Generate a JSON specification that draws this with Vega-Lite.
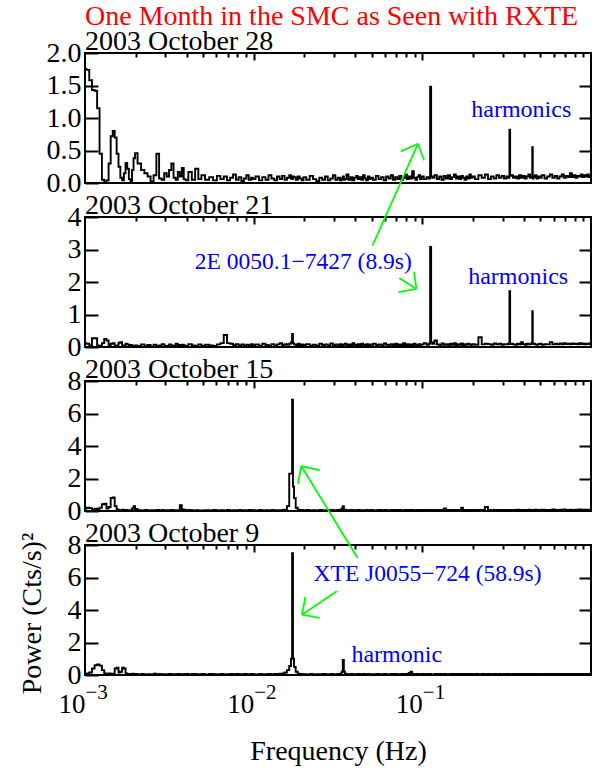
{
  "$schema": "https://vega.github.io/schema/vega-lite/v6.json",
  "background": "white",
  "padding": {"left": 17, "top": 2, "right": 0, "bottom": 0},
  "config": {
    "font": "Liberation Serif",
    "view": {"stroke": "black", "strokeWidth": 2},
    "axis": {"domain": false, "grid": false, "labelFont": "Liberation Serif", "labelFontSize": 28, "labelColor": "black", "labelFlush": false, "labelOverlap": false, "tickColor": "black", "tickWidth": 2, "titleFont": "Liberation Serif", "titleFontSize": 28, "titleFontWeight": "normal", "titleColor": "black"},
    "text": {"font": "Liberation Serif"}
  },
  "datasets": {
    "spectra": [
      {"f":0.00100,"oct28":1.76,"oct21":0.12,"oct15":0.15,"oct9":0.08},
      {"f":0.00104,"oct28":1.74,"oct21":0.10,"oct15":0.20,"oct9":0.10},
      {"f":0.00108,"oct28":1.58,"oct21":0.05,"oct15":0.18,"oct9":0.15},
      {"f":0.00112,"oct28":1.43,"oct21":0.27,"oct15":0.08,"oct9":0.40},
      {"f":0.00116,"oct28":1.42,"oct21":0.27,"oct15":0.14,"oct9":0.60},
      {"f":0.00120,"oct28":1.15,"oct21":0.05,"oct15":0.12,"oct9":0.65},
      {"f":0.00124,"oct28":0.45,"oct21":0.03,"oct15":0.20,"oct9":0.58},
      {"f":0.00128,"oct28":0.05,"oct21":0.12,"oct15":0.42,"oct9":0.30},
      {"f":0.00132,"oct28":0.00,"oct21":0.25,"oct15":0.45,"oct9":0.10},
      {"f":0.00136,"oct28":0.04,"oct21":0.20,"oct15":0.15,"oct9":0.05},
      {"f":0.00140,"oct28":0.30,"oct21":0.05,"oct15":0.25,"oct9":0.10},
      {"f":0.00144,"oct28":0.72,"oct21":0.10,"oct15":0.80,"oct9":0.08},
      {"f":0.00148,"oct28":0.80,"oct21":0.12,"oct15":0.83,"oct9":0.05},
      {"f":0.00152,"oct28":0.70,"oct21":0.04,"oct15":0.30,"oct9":0.40},
      {"f":0.00156,"oct28":0.45,"oct21":0.05,"oct15":0.10,"oct9":0.45},
      {"f":0.00160,"oct28":0.25,"oct21":0.13,"oct15":0.05,"oct9":0.15},
      {"f":0.00164,"oct28":0.08,"oct21":0.15,"oct15":0.05,"oct9":0.20},
      {"f":0.00168,"oct28":0.04,"oct21":0.05,"oct15":0.08,"oct9":0.45},
      {"f":0.00172,"oct28":0.15,"oct21":0.03,"oct15":0.04,"oct9":0.40},
      {"f":0.00176,"oct28":0.31,"oct21":0.10,"oct15":0.06,"oct9":0.10},
      {"f":0.00180,"oct28":0.22,"oct21":0.08,"oct15":0.05,"oct9":0.05},
      {"f":0.00184,"oct28":0.06,"oct21":0.03,"oct15":0.03,"oct9":0.06},
      {"f":0.00188,"oct28":0.03,"oct21":0.06,"oct15":0.05,"oct9":0.04},
      {"f":0.00192,"oct28":0.20,"oct21":0.04,"oct15":0.15,"oct9":0.08},
      {"f":0.00196,"oct28":0.38,"oct21":0.02,"oct15":0.30,"oct9":0.05},
      {"f":0.00200,"oct28":0.46,"oct21":0.05,"oct15":0.12,"oct9":0.06},
      {"f":0.00210,"oct28":0.30,"oct21":0.03,"oct15":0.05,"oct9":0.04},
      {"f":0.00220,"oct28":0.20,"oct21":0.08,"oct15":0.04,"oct9":0.07},
      {"f":0.00230,"oct28":0.15,"oct21":0.04,"oct15":0.06,"oct9":0.03},
      {"f":0.00240,"oct28":0.10,"oct21":0.06,"oct15":0.03,"oct9":0.05},
      {"f":0.00250,"oct28":0.02,"oct21":0.02,"oct15":0.05,"oct9":0.04},
      {"f":0.00260,"oct28":0.12,"oct21":0.07,"oct15":0.04,"oct9":0.08},
      {"f":0.00270,"oct28":0.45,"oct21":0.03,"oct15":0.06,"oct9":0.03},
      {"f":0.00280,"oct28":0.07,"oct21":0.05,"oct15":0.03,"oct9":0.06},
      {"f":0.00290,"oct28":0.05,"oct21":0.09,"oct15":0.07,"oct9":0.04},
      {"f":0.00300,"oct28":0.15,"oct21":0.04,"oct15":0.04,"oct9":0.05},
      {"f":0.00310,"oct28":0.10,"oct21":0.03,"oct15":0.05,"oct9":0.03},
      {"f":0.00320,"oct28":0.20,"oct21":0.08,"oct15":0.03,"oct9":0.07},
      {"f":0.00330,"oct28":0.30,"oct21":0.05,"oct15":0.06,"oct9":0.04},
      {"f":0.00340,"oct28":0.08,"oct21":0.03,"oct15":0.04,"oct9":0.05},
      {"f":0.00350,"oct28":0.05,"oct21":0.10,"oct15":0.05,"oct9":0.03},
      {"f":0.00360,"oct28":0.17,"oct21":0.06,"oct15":0.04,"oct9":0.06},
      {"f":0.00370,"oct28":0.10,"oct21":0.04,"oct15":0.35,"oct9":0.04},
      {"f":0.00380,"oct28":0.23,"oct21":0.07,"oct15":0.10,"oct9":0.05},
      {"f":0.00390,"oct28":0.06,"oct21":0.05,"oct15":0.08,"oct9":0.03},
      {"f":0.00400,"oct28":0.04,"oct21":0.03,"oct15":0.04,"oct9":0.06},
      {"f":0.00420,"oct28":0.17,"oct21":0.09,"oct15":0.06,"oct9":0.04},
      {"f":0.00440,"oct28":0.05,"oct21":0.05,"oct15":0.03,"oct9":0.07},
      {"f":0.00460,"oct28":0.22,"oct21":0.04,"oct15":0.05,"oct9":0.05},
      {"f":0.00480,"oct28":0.06,"oct21":0.08,"oct15":0.04,"oct9":0.03},
      {"f":0.00500,"oct28":0.12,"oct21":0.04,"oct15":0.03,"oct9":0.06},
      {"f":0.00530,"oct28":0.05,"oct21":0.07,"oct15":0.05,"oct9":0.04},
      {"f":0.00560,"oct28":0.09,"oct21":0.05,"oct15":0.04,"oct9":0.07},
      {"f":0.00590,"oct28":0.04,"oct21":0.03,"oct15":0.06,"oct9":0.05},
      {"f":0.00620,"oct28":0.11,"oct21":0.08,"oct15":0.03,"oct9":0.04},
      {"f":0.00650,"oct28":0.06,"oct21":0.12,"oct15":0.05,"oct9":0.06},
      {"f":0.00680,"oct28":0.10,"oct21":0.37,"oct15":0.04,"oct9":0.03},
      {"f":0.00710,"oct28":0.04,"oct21":0.12,"oct15":0.06,"oct9":0.05},
      {"f":0.00740,"oct28":0.08,"oct21":0.10,"oct15":0.03,"oct9":0.07},
      {"f":0.00770,"oct28":0.13,"oct21":0.06,"oct15":0.05,"oct9":0.04},
      {"f":0.00800,"oct28":0.05,"oct21":0.09,"oct15":0.04,"oct9":0.06},
      {"f":0.00830,"oct28":0.09,"oct21":0.05,"oct15":0.06,"oct9":0.05},
      {"f":0.00860,"oct28":0.03,"oct21":0.08,"oct15":0.03,"oct9":0.04},
      {"f":0.00890,"oct28":0.07,"oct21":0.04,"oct15":0.05,"oct9":0.07},
      {"f":0.00920,"oct28":0.12,"oct21":0.07,"oct15":0.04,"oct9":0.05},
      {"f":0.00950,"oct28":0.05,"oct21":0.05,"oct15":0.06,"oct9":0.04},
      {"f":0.00980,"oct28":0.08,"oct21":0.09,"oct15":0.04,"oct9":0.06},
      {"f":0.0100,"oct28":0.06,"oct21":0.05,"oct15":0.05,"oct9":0.05},
      {"f":0.0105,"oct28":0.10,"oct21":0.08,"oct15":0.03,"oct9":0.04},
      {"f":0.0110,"oct28":0.04,"oct21":0.04,"oct15":0.06,"oct9":0.06},
      {"f":0.0115,"oct28":0.09,"oct21":0.10,"oct15":0.04,"oct9":0.03},
      {"f":0.0120,"oct28":0.05,"oct21":0.06,"oct15":0.05,"oct9":0.05},
      {"f":0.0125,"oct28":0.12,"oct21":0.04,"oct15":0.03,"oct9":0.07},
      {"f":0.0130,"oct28":0.07,"oct21":0.09,"oct15":0.06,"oct9":0.04},
      {"f":0.0135,"oct28":0.04,"oct21":0.05,"oct15":0.04,"oct9":0.06},
      {"f":0.0140,"oct28":0.10,"oct21":0.08,"oct15":0.05,"oct9":0.05},
      {"f":0.0145,"oct28":0.06,"oct21":0.12,"oct15":0.04,"oct9":0.08},
      {"f":0.0150,"oct28":0.11,"oct21":0.06,"oct15":0.06,"oct9":0.10},
      {"f":0.0155,"oct28":0.05,"oct21":0.09,"oct15":0.08,"oct9":0.15},
      {"f":0.0160,"oct28":0.08,"oct21":0.07,"oct15":0.30,"oct9":0.30},
      {"f":0.0165,"oct28":0.12,"oct21":0.10,"oct15":2.30,"oct9":0.55},
      {"f":0.0168,"oct28":0.07,"oct21":0.15,"oct15":2.30,"oct9":1.00},
      {"f":0.0170,"oct28":0.06,"oct21":0.40,"oct15":6.85,"oct9":7.50},
      {"f":0.0172,"oct28":0.10,"oct21":0.12,"oct15":1.50,"oct9":1.00},
      {"f":0.0175,"oct28":0.09,"oct21":0.08,"oct15":0.80,"oct9":0.50},
      {"f":0.0180,"oct28":0.05,"oct21":0.06,"oct15":0.20,"oct9":0.20},
      {"f":0.0185,"oct28":0.10,"oct21":0.10,"oct15":0.08,"oct9":0.08},
      {"f":0.0190,"oct28":0.07,"oct21":0.05,"oct15":0.05,"oct9":0.05},
      {"f":0.0195,"oct28":0.04,"oct21":0.08,"oct15":0.06,"oct9":0.06},
      {"f":0.020,"oct28":0.09,"oct21":0.06,"oct15":0.04,"oct9":0.05},
      {"f":0.021,"oct28":0.05,"oct21":0.09,"oct15":0.06,"oct9":0.04},
      {"f":0.022,"oct28":0.11,"oct21":0.05,"oct15":0.03,"oct9":0.06},
      {"f":0.023,"oct28":0.06,"oct21":0.07,"oct15":0.05,"oct9":0.03},
      {"f":0.024,"oct28":0.03,"oct21":0.04,"oct15":0.04,"oct9":0.05},
      {"f":0.025,"oct28":0.08,"oct21":0.10,"oct15":0.06,"oct9":0.04},
      {"f":0.026,"oct28":0.05,"oct21":0.06,"oct15":0.03,"oct9":0.06},
      {"f":0.027,"oct28":0.10,"oct21":0.08,"oct15":0.05,"oct9":0.05},
      {"f":0.028,"oct28":0.04,"oct21":0.05,"oct15":0.04,"oct9":0.03},
      {"f":0.029,"oct28":0.07,"oct21":0.11,"oct15":0.06,"oct9":0.06},
      {"f":0.030,"oct28":0.12,"oct21":0.06,"oct15":0.04,"oct9":0.04},
      {"f":0.031,"oct28":0.05,"oct21":0.08,"oct15":0.05,"oct9":0.05},
      {"f":0.032,"oct28":0.08,"oct21":0.05,"oct15":0.07,"oct9":0.07},
      {"f":0.033,"oct28":0.04,"oct21":0.09,"oct15":0.08,"oct9":0.08},
      {"f":0.0335,"oct28":0.07,"oct21":0.06,"oct15":0.15,"oct9":0.20},
      {"f":0.034,"oct28":0.10,"oct21":0.06,"oct15":0.30,"oct9":0.93},
      {"f":0.0345,"oct28":0.05,"oct21":0.08,"oct15":0.10,"oct9":0.20},
      {"f":0.035,"oct28":0.06,"oct21":0.10,"oct15":0.06,"oct9":0.08},
      {"f":0.036,"oct28":0.13,"oct21":0.05,"oct15":0.05,"oct9":0.05},
      {"f":0.037,"oct28":0.05,"oct21":0.08,"oct15":0.04,"oct9":0.04},
      {"f":0.038,"oct28":0.09,"oct21":0.06,"oct15":0.06,"oct9":0.06},
      {"f":0.039,"oct28":0.04,"oct21":0.12,"oct15":0.03,"oct9":0.04},
      {"f":0.040,"oct28":0.08,"oct21":0.07,"oct15":0.05,"oct9":0.05},
      {"f":0.041,"oct28":0.11,"oct21":0.05,"oct15":0.04,"oct9":0.03},
      {"f":0.042,"oct28":0.06,"oct21":0.09,"oct15":0.06,"oct9":0.06},
      {"f":0.043,"oct28":0.09,"oct21":0.06,"oct15":0.05,"oct9":0.04},
      {"f":0.044,"oct28":0.05,"oct21":0.10,"oct15":0.03,"oct9":0.05},
      {"f":0.045,"oct28":0.12,"oct21":0.07,"oct15":0.05,"oct9":0.07},
      {"f":0.046,"oct28":0.07,"oct21":0.05,"oct15":0.04,"oct9":0.04},
      {"f":0.047,"oct28":0.04,"oct21":0.09,"oct15":0.06,"oct9":0.05},
      {"f":0.048,"oct28":0.10,"oct21":0.06,"oct15":0.05,"oct9":0.06},
      {"f":0.049,"oct28":0.06,"oct21":0.08,"oct15":0.04,"oct9":0.04},
      {"f":0.050,"oct28":0.08,"oct21":0.05,"oct15":0.06,"oct9":0.05},
      {"f":0.052,"oct28":0.05,"oct21":0.10,"oct15":0.04,"oct9":0.04},
      {"f":0.054,"oct28":0.11,"oct21":0.06,"oct15":0.05,"oct9":0.06},
      {"f":0.056,"oct28":0.06,"oct21":0.08,"oct15":0.07,"oct9":0.05},
      {"f":0.058,"oct28":0.09,"oct21":0.05,"oct15":0.04,"oct9":0.03},
      {"f":0.060,"oct28":0.04,"oct21":0.11,"oct15":0.06,"oct9":0.06},
      {"f":0.062,"oct28":0.10,"oct21":0.07,"oct15":0.05,"oct9":0.05},
      {"f":0.064,"oct28":0.07,"oct21":0.05,"oct15":0.04,"oct9":0.04},
      {"f":0.066,"oct28":0.12,"oct21":0.09,"oct15":0.06,"oct9":0.07},
      {"f":0.068,"oct28":0.05,"oct21":0.06,"oct15":0.05,"oct9":0.05},
      {"f":0.070,"oct28":0.09,"oct21":0.10,"oct15":0.07,"oct9":0.06},
      {"f":0.072,"oct28":0.06,"oct21":0.05,"oct15":0.04,"oct9":0.04},
      {"f":0.074,"oct28":0.11,"oct21":0.08,"oct15":0.06,"oct9":0.05},
      {"f":0.076,"oct28":0.05,"oct21":0.06,"oct15":0.05,"oct9":0.06},
      {"f":0.078,"oct28":0.08,"oct21":0.12,"oct15":0.04,"oct9":0.04},
      {"f":0.080,"oct28":0.13,"oct21":0.06,"oct15":0.06,"oct9":0.07},
      {"f":0.082,"oct28":0.06,"oct21":0.09,"oct15":0.05,"oct9":0.05},
      {"f":0.084,"oct28":0.10,"oct21":0.05,"oct15":0.07,"oct9":0.12},
      {"f":0.086,"oct28":0.07,"oct21":0.08,"oct15":0.04,"oct9":0.20},
      {"f":0.088,"oct28":0.18,"oct21":0.06,"oct15":0.06,"oct9":0.06},
      {"f":0.090,"oct28":0.08,"oct21":0.10,"oct15":0.05,"oct9":0.05},
      {"f":0.092,"oct28":0.05,"oct21":0.07,"oct15":0.04,"oct9":0.04},
      {"f":0.094,"oct28":0.09,"oct21":0.05,"oct15":0.06,"oct9":0.06},
      {"f":0.096,"oct28":0.12,"oct21":0.09,"oct15":0.05,"oct9":0.05},
      {"f":0.098,"oct28":0.06,"oct21":0.06,"oct15":0.07,"oct9":0.04},
      {"f":0.100,"oct28":0.10,"oct21":0.08,"oct15":0.05,"oct9":0.06},
      {"f":0.104,"oct28":0.06,"oct21":0.12,"oct15":0.06,"oct9":0.05},
      {"f":0.108,"oct28":0.09,"oct21":0.07,"oct15":0.04,"oct9":0.07},
      {"f":0.1105,"oct28":0.07,"oct21":0.10,"oct15":0.06,"oct9":0.05},
      {"f":0.112,"oct28":1.48,"oct21":3.08,"oct15":0.05,"oct9":0.06},
      {"f":0.1135,"oct28":0.10,"oct21":0.14,"oct15":0.07,"oct9":0.04},
      {"f":0.116,"oct28":0.08,"oct21":0.10,"oct15":0.05,"oct9":0.04},
      {"f":0.120,"oct28":0.12,"oct21":0.20,"oct15":0.07,"oct9":0.06},
      {"f":0.124,"oct28":0.06,"oct21":0.08,"oct15":0.04,"oct9":0.05},
      {"f":0.128,"oct28":0.10,"oct21":0.06,"oct15":0.06,"oct9":0.07},
      {"f":0.132,"oct28":0.05,"oct21":0.11,"oct15":0.05,"oct9":0.04},
      {"f":0.136,"oct28":0.11,"oct21":0.07,"oct15":0.15,"oct9":0.06},
      {"f":0.140,"oct28":0.07,"oct21":0.09,"oct15":0.05,"oct9":0.05},
      {"f":0.144,"oct28":0.12,"oct21":0.06,"oct15":0.07,"oct9":0.04},
      {"f":0.148,"oct28":0.06,"oct21":0.10,"oct15":0.04,"oct9":0.06},
      {"f":0.152,"oct28":0.09,"oct21":0.07,"oct15":0.06,"oct9":0.05},
      {"f":0.156,"oct28":0.13,"oct21":0.12,"oct15":0.05,"oct9":0.07},
      {"f":0.160,"oct28":0.07,"oct21":0.06,"oct15":0.07,"oct9":0.04},
      {"f":0.164,"oct28":0.10,"oct21":0.09,"oct15":0.05,"oct9":0.06},
      {"f":0.168,"oct28":0.06,"oct21":0.07,"oct15":0.06,"oct9":0.05},
      {"f":0.172,"oct28":0.11,"oct21":0.11,"oct15":0.20,"oct9":0.07},
      {"f":0.176,"oct28":0.08,"oct21":0.06,"oct15":0.05,"oct9":0.04},
      {"f":0.180,"oct28":0.05,"oct21":0.09,"oct15":0.06,"oct9":0.06},
      {"f":0.184,"oct28":0.10,"oct21":0.07,"oct15":0.05,"oct9":0.05},
      {"f":0.188,"oct28":0.07,"oct21":0.10,"oct15":0.07,"oct9":0.06},
      {"f":0.192,"oct28":0.13,"oct21":0.08,"oct15":0.04,"oct9":0.04},
      {"f":0.196,"oct28":0.08,"oct21":0.06,"oct15":0.06,"oct9":0.07},
      {"f":0.20,"oct28":0.10,"oct21":0.09,"oct15":0.05,"oct9":0.05},
      {"f":0.21,"oct28":0.06,"oct21":0.07,"oct15":0.07,"oct9":0.06},
      {"f":0.22,"oct28":0.12,"oct21":0.30,"oct15":0.06,"oct9":0.04},
      {"f":0.23,"oct28":0.08,"oct21":0.08,"oct15":0.06,"oct9":0.06},
      {"f":0.24,"oct28":0.13,"oct21":0.10,"oct15":0.25,"oct9":0.05},
      {"f":0.25,"oct28":0.06,"oct21":0.09,"oct15":0.07,"oct9":0.07},
      {"f":0.26,"oct28":0.10,"oct21":0.07,"oct15":0.05,"oct9":0.05},
      {"f":0.27,"oct28":0.07,"oct21":0.11,"oct15":0.07,"oct9":0.06},
      {"f":0.28,"oct28":0.12,"oct21":0.08,"oct15":0.06,"oct9":0.04},
      {"f":0.29,"oct28":0.08,"oct21":0.10,"oct15":0.07,"oct9":0.06},
      {"f":0.30,"oct28":0.11,"oct21":0.07,"oct15":0.05,"oct9":0.05},
      {"f":0.31,"oct28":0.07,"oct21":0.09,"oct15":0.07,"oct9":0.07},
      {"f":0.32,"oct28":0.10,"oct21":0.08,"oct15":0.06,"oct9":0.05},
      {"f":0.327,"oct28":0.08,"oct21":0.11,"oct15":0.05,"oct9":0.06},
      {"f":0.33,"oct28":0.82,"oct21":1.72,"oct15":0.07,"oct9":0.06},
      {"f":0.333,"oct28":0.11,"oct21":0.09,"oct15":0.06,"oct9":0.05},
      {"f":0.34,"oct28":0.12,"oct21":0.10,"oct15":0.05,"oct9":0.04},
      {"f":0.35,"oct28":0.08,"oct21":0.08,"oct15":0.07,"oct9":0.06},
      {"f":0.36,"oct28":0.10,"oct21":0.07,"oct15":0.06,"oct9":0.07},
      {"f":0.37,"oct28":0.07,"oct21":0.10,"oct15":0.08,"oct9":0.05},
      {"f":0.38,"oct28":0.12,"oct21":0.08,"oct15":0.06,"oct9":0.06},
      {"f":0.39,"oct28":0.08,"oct21":0.15,"oct15":0.07,"oct9":0.04},
      {"f":0.40,"oct28":0.11,"oct21":0.09,"oct15":0.05,"oct9":0.06},
      {"f":0.41,"oct28":0.07,"oct21":0.07,"oct15":0.07,"oct9":0.05},
      {"f":0.42,"oct28":0.10,"oct21":0.10,"oct15":0.06,"oct9":0.07},
      {"f":0.43,"oct28":0.13,"oct21":0.08,"oct15":0.08,"oct9":0.05},
      {"f":0.44,"oct28":0.08,"oct21":0.09,"oct15":0.06,"oct9":0.06},
      {"f":0.447,"oct28":0.10,"oct21":0.12,"oct15":0.07,"oct9":0.05},
      {"f":0.45,"oct28":0.55,"oct21":1.10,"oct15":0.07,"oct9":0.05},
      {"f":0.453,"oct28":0.07,"oct21":0.10,"oct15":0.05,"oct9":0.06},
      {"f":0.46,"oct28":0.09,"oct21":0.10,"oct15":0.06,"oct9":0.07},
      {"f":0.47,"oct28":0.12,"oct21":0.08,"oct15":0.08,"oct9":0.05},
      {"f":0.48,"oct28":0.07,"oct21":0.07,"oct15":0.06,"oct9":0.06},
      {"f":0.49,"oct28":0.10,"oct21":0.09,"oct15":0.07,"oct9":0.05},
      {"f":0.50,"oct28":0.08,"oct21":0.10,"oct15":0.06,"oct9":0.06},
      {"f":0.52,"oct28":0.12,"oct21":0.07,"oct15":0.08,"oct9":0.05},
      {"f":0.54,"oct28":0.07,"oct21":0.09,"oct15":0.06,"oct9":0.07},
      {"f":0.56,"oct28":0.10,"oct21":0.08,"oct15":0.07,"oct9":0.05},
      {"f":0.58,"oct28":0.13,"oct21":0.15,"oct15":0.06,"oct9":0.06},
      {"f":0.60,"oct28":0.08,"oct21":0.08,"oct15":0.09,"oct9":0.07},
      {"f":0.62,"oct28":0.11,"oct21":0.10,"oct15":0.06,"oct9":0.05},
      {"f":0.64,"oct28":0.07,"oct21":0.08,"oct15":0.07,"oct9":0.06},
      {"f":0.66,"oct28":0.10,"oct21":0.11,"oct15":0.08,"oct9":0.07},
      {"f":0.68,"oct28":0.13,"oct21":0.08,"oct15":0.06,"oct9":0.05},
      {"f":0.70,"oct28":0.08,"oct21":0.12,"oct15":0.09,"oct9":0.06},
      {"f":0.72,"oct28":0.11,"oct21":0.09,"oct15":0.07,"oct9":0.07},
      {"f":0.74,"oct28":0.09,"oct21":0.10,"oct15":0.06,"oct9":0.05},
      {"f":0.76,"oct28":0.15,"oct21":0.08,"oct15":0.08,"oct9":0.06},
      {"f":0.78,"oct28":0.09,"oct21":0.11,"oct15":0.07,"oct9":0.07},
      {"f":0.80,"oct28":0.12,"oct21":0.09,"oct15":0.06,"oct9":0.05},
      {"f":0.82,"oct28":0.08,"oct21":0.10,"oct15":0.08,"oct9":0.06},
      {"f":0.84,"oct28":0.11,"oct21":0.08,"oct15":0.07,"oct9":0.07},
      {"f":0.86,"oct28":0.10,"oct21":0.12,"oct15":0.09,"oct9":0.06},
      {"f":0.88,"oct28":0.13,"oct21":0.09,"oct15":0.06,"oct9":0.05},
      {"f":0.90,"oct28":0.09,"oct21":0.11,"oct15":0.08,"oct9":0.07},
      {"f":0.92,"oct28":0.12,"oct21":0.08,"oct15":0.07,"oct9":0.06},
      {"f":0.94,"oct28":0.10,"oct21":0.10,"oct15":0.08,"oct9":0.07},
      {"f":0.96,"oct28":0.13,"oct21":0.09,"oct15":0.06,"oct9":0.05},
      {"f":0.98,"oct28":0.09,"oct21":0.11,"oct15":0.08,"oct9":0.06},
      {"f":1.00,"oct28":0.11,"oct21":0.09,"oct15":0.07,"oct9":0.07}
    ],
    "arrows21": [
      {"f":0.0507,"p":3.13,"f2":0.0943,"p2":6.255},
      {"f":0.0943,"p":6.255,"f2":0.0745,"p2":6.02},
      {"f":0.0943,"p":6.255,"f2":0.1023,"p2":5.745},
      {"f":0.0729,"p":2.123,"f2":0.0922,"p2":1.785},
      {"f":0.0922,"p":1.785,"f2":0.0893,"p2":2.31},
      {"f":0.0922,"p":1.785,"f2":0.0722,"p2":1.69}
    ],
    "arrows9": [
      {"f":0.0413,"p":7.2,"f2":0.01914,"p2":12.86},
      {"f":0.01914,"p":12.86,"f2":0.01831,"p2":11.77},
      {"f":0.01914,"p":12.86,"f2":0.02458,"p2":12.6},
      {"f":0.0311,"p":5.15,"f2":0.01932,"p2":3.71},
      {"f":0.01932,"p":3.71,"f2":0.02458,"p2":3.51},
      {"f":0.01932,"p":3.71,"f2":0.02026,"p2":4.8}
    ]
  },
  "spacing": 34,
  "bounds": "flush",
  "vconcat": [
    {
      "width": 506, "height": 130,
      "resolve": {"axis": {"x": "independent", "y": "independent"}},
      "layer": [
        {"data": {"name": "spectra"},
         "mark": {"type": "line", "interpolate": "step", "color": "black", "strokeWidth": 1.9},
         "encoding": {
           "x": {"field": "f", "type": "quantitative", "scale": {"type": "log", "domain": [0.001, 1], "nice": false}, "axis": null},
           "y": {"field": "oct28", "type": "quantitative", "scale": {"domain": [0, 2], "nice": false, "zero": false}, "axis": {"orient": "left", "values": [0, 0.5, 1, 1.5, 2], "format": ".1f", "tickSize": -13, "labelPadding": 17, "title": null}}}},
        {"data": {"name": "spectra"},
         "mark": {"type": "line", "opacity": 0},
         "encoding": {
           "x": {"field": "f", "type": "quantitative", "scale": {"type": "log", "domain": [0.001, 1], "nice": false}, "axis": {"orient": "top", "labels": false, "title": null, "tickSize": -4, "values": [0.002,0.003,0.004,0.005,0.006,0.007,0.008,0.009,0.02,0.03,0.04,0.05,0.06,0.07,0.08,0.09,0.2,0.3,0.4,0.5,0.6,0.7,0.8,0.9]}},
           "y": {"field": "oct28", "type": "quantitative", "scale": {"domain": [0, 2], "nice": false, "zero": false}, "axis": {"orient": "right", "labels": false, "title": null, "tickSize": -12, "values": [0.5, 1, 1.5]}}}},
        {"data": {"name": "spectra"},
         "mark": {"type": "line", "opacity": 0},
         "encoding": {
           "x": {"field": "f", "type": "quantitative", "scale": {"type": "log", "domain": [0.001, 1], "nice": false}, "axis": {"orient": "top", "labels": false, "title": null, "tickSize": -7, "values": [0.01, 0.1]}},
           "y": {"field": "oct28", "type": "quantitative", "scale": {"domain": [0, 2], "nice": false, "zero": false}, "axis": null}}},
        {"data": {"values": [{}]},
         "mark": {"type": "text", "text": "One Month in the SMC as Seen with RXTE", "align": "left", "baseline": "alphabetic", "dy": -28, "fontSize": 28, "color": "#ff0000"},
         "encoding": {
           "x": {"datum": 0.001, "type": "quantitative", "scale": {"type": "log", "domain": [0.001, 1], "nice": false}, "axis": null},
           "y": {"datum": 2, "type": "quantitative", "scale": {"domain": [0, 2], "nice": false, "zero": false}, "axis": null}}},
        {"data": {"values": [{}]},
         "mark": {"type": "text", "text": "2003 October 28", "align": "left", "baseline": "alphabetic", "dy": -3, "fontSize": 28, "color": "black"},
         "encoding": {
           "x": {"datum": 0.001, "type": "quantitative", "scale": {"type": "log", "domain": [0.001, 1], "nice": false}, "axis": null},
           "y": {"datum": 2, "type": "quantitative", "scale": {"domain": [0, 2], "nice": false, "zero": false}, "axis": null}}},
        {"data": {"values": [{}]},
         "mark": {"type": "text", "text": "harmonics", "align": "left", "baseline": "middle", "fontSize": 24, "color": "#0000ff"},
         "encoding": {
           "x": {"datum": 0.195, "type": "quantitative", "scale": {"type": "log", "domain": [0.001, 1], "nice": false}, "axis": null},
           "y": {"datum": 1.12, "type": "quantitative", "scale": {"domain": [0, 2], "nice": false, "zero": false}, "axis": null}}}
      ]
    },
    {
      "width": 506, "height": 130,
      "resolve": {"axis": {"x": "independent", "y": "independent"}},
      "layer": [
        {"data": {"name": "spectra"},
         "mark": {"type": "line", "interpolate": "step", "color": "black", "strokeWidth": 1.9},
         "encoding": {
           "x": {"field": "f", "type": "quantitative", "scale": {"type": "log", "domain": [0.001, 1], "nice": false}, "axis": null},
           "y": {"field": "oct21", "type": "quantitative", "scale": {"domain": [0, 4], "nice": false, "zero": false}, "axis": {"orient": "left", "values": [0, 1, 2, 3, 4], "tickSize": -13, "labelPadding": 17, "title": null}}}},
        {"data": {"name": "spectra"},
         "mark": {"type": "line", "opacity": 0},
         "encoding": {
           "x": {"field": "f", "type": "quantitative", "scale": {"type": "log", "domain": [0.001, 1], "nice": false}, "axis": {"orient": "top", "labels": false, "title": null, "tickSize": -4, "values": [0.002,0.003,0.004,0.005,0.006,0.007,0.008,0.009,0.02,0.03,0.04,0.05,0.06,0.07,0.08,0.09,0.2,0.3,0.4,0.5,0.6,0.7,0.8,0.9]}},
           "y": {"field": "oct21", "type": "quantitative", "scale": {"domain": [0, 4], "nice": false, "zero": false}, "axis": {"orient": "right", "labels": false, "title": null, "tickSize": -12, "values": [1, 2, 3]}}}},
        {"data": {"name": "spectra"},
         "mark": {"type": "line", "opacity": 0},
         "encoding": {
           "x": {"field": "f", "type": "quantitative", "scale": {"type": "log", "domain": [0.001, 1], "nice": false}, "axis": {"orient": "top", "labels": false, "title": null, "tickSize": -7, "values": [0.01, 0.1]}},
           "y": {"field": "oct21", "type": "quantitative", "scale": {"domain": [0, 4], "nice": false, "zero": false}, "axis": null}}},
        {"data": {"name": "arrows21"},
         "mark": {"type": "rule", "color": "#00ff00", "strokeWidth": 1.8},
         "encoding": {
           "x": {"field": "f", "type": "quantitative", "scale": {"type": "log", "domain": [0.001, 1], "nice": false}, "axis": null},
           "x2": {"field": "f2"},
           "y": {"field": "p", "type": "quantitative", "scale": {"domain": [0, 4], "nice": false, "zero": false}, "axis": null},
           "y2": {"field": "p2"}}},
        {"data": {"values": [{}]},
         "mark": {"type": "text", "text": "2003 October 21", "align": "left", "baseline": "alphabetic", "dy": -3, "fontSize": 28, "color": "black"},
         "encoding": {
           "x": {"datum": 0.001, "type": "quantitative", "scale": {"type": "log", "domain": [0.001, 1], "nice": false}, "axis": null},
           "y": {"datum": 4, "type": "quantitative", "scale": {"domain": [0, 4], "nice": false, "zero": false}, "axis": null}}},
        {"data": {"values": [{}]},
         "mark": {"type": "text", "text": "2E 0050.1−7427 (8.9s)", "align": "left", "baseline": "middle", "fontSize": 23.5, "color": "#0000ff"},
         "encoding": {
           "x": {"datum": 0.00448, "type": "quantitative", "scale": {"type": "log", "domain": [0.001, 1], "nice": false}, "axis": null},
           "y": {"datum": 2.615, "type": "quantitative", "scale": {"domain": [0, 4], "nice": false, "zero": false}, "axis": null}}},
        {"data": {"values": [{}]},
         "mark": {"type": "text", "text": "harmonics", "align": "left", "baseline": "middle", "fontSize": 24, "color": "#0000ff"},
         "encoding": {
           "x": {"datum": 0.187, "type": "quantitative", "scale": {"type": "log", "domain": [0.001, 1], "nice": false}, "axis": null},
           "y": {"datum": 2.15, "type": "quantitative", "scale": {"domain": [0, 4], "nice": false, "zero": false}, "axis": null}}}
      ]
    },
    {
      "width": 506, "height": 130,
      "resolve": {"axis": {"x": "independent", "y": "independent"}},
      "layer": [
        {"data": {"name": "spectra"},
         "mark": {"type": "line", "interpolate": "step", "color": "black", "strokeWidth": 1.9},
         "encoding": {
           "x": {"field": "f", "type": "quantitative", "scale": {"type": "log", "domain": [0.001, 1], "nice": false}, "axis": null},
           "y": {"field": "oct15", "type": "quantitative", "scale": {"domain": [0, 8], "nice": false, "zero": false}, "axis": {"orient": "left", "values": [0, 2, 4, 6, 8], "tickSize": -13, "labelPadding": 17, "title": null}}}},
        {"data": {"name": "spectra"},
         "mark": {"type": "line", "opacity": 0},
         "encoding": {
           "x": {"field": "f", "type": "quantitative", "scale": {"type": "log", "domain": [0.001, 1], "nice": false}, "axis": {"orient": "top", "labels": false, "title": null, "tickSize": -4, "values": [0.002,0.003,0.004,0.005,0.006,0.007,0.008,0.009,0.02,0.03,0.04,0.05,0.06,0.07,0.08,0.09,0.2,0.3,0.4,0.5,0.6,0.7,0.8,0.9]}},
           "y": {"field": "oct15", "type": "quantitative", "scale": {"domain": [0, 8], "nice": false, "zero": false}, "axis": {"orient": "right", "labels": false, "title": null, "tickSize": -12, "values": [2, 4, 6]}}}},
        {"data": {"name": "spectra"},
         "mark": {"type": "line", "opacity": 0},
         "encoding": {
           "x": {"field": "f", "type": "quantitative", "scale": {"type": "log", "domain": [0.001, 1], "nice": false}, "axis": {"orient": "top", "labels": false, "title": null, "tickSize": -7, "values": [0.01, 0.1]}},
           "y": {"field": "oct15", "type": "quantitative", "scale": {"domain": [0, 8], "nice": false, "zero": false}, "axis": null}}},
        {"data": {"values": [{}]},
         "mark": {"type": "text", "text": "2003 October 15", "align": "left", "baseline": "alphabetic", "dy": -3, "fontSize": 28, "color": "black"},
         "encoding": {
           "x": {"datum": 0.001, "type": "quantitative", "scale": {"type": "log", "domain": [0.001, 1], "nice": false}, "axis": null},
           "y": {"datum": 8, "type": "quantitative", "scale": {"domain": [0, 8], "nice": false, "zero": false}, "axis": null}}}
      ]
    },
    {
      "width": 506, "height": 130,
      "resolve": {"axis": {"x": "independent", "y": "independent"}},
      "layer": [
        {"data": {"name": "spectra"},
         "mark": {"type": "line", "interpolate": "step", "color": "black", "strokeWidth": 1.9},
         "encoding": {
           "x": {"field": "f", "type": "quantitative", "scale": {"type": "log", "domain": [0.001, 1], "nice": false}, "axis": {"orient": "bottom", "values": [0.001, 0.01, 0.1], "labelExpr": "'10'", "labelAlign": "right", "labelBaseline": "alphabetic", "labelPadding": 37, "labelFontSize": 27, "ticks": false, "title": "Frequency (Hz)", "titleX": 253, "titleY": 84, "titleBaseline": "alphabetic", "titleAlign": "center"}},
           "y": {"field": "oct9", "type": "quantitative", "scale": {"domain": [0, 8], "nice": false, "zero": false}, "axis": {"orient": "left", "values": [0, 2, 4, 6, 8], "tickSize": -13, "labelPadding": 17, "title": "Power (Cts/s)²", "titleX": -45, "titleY": 68, "titleBaseline": "alphabetic", "titleAlign": "center"}}}},
        {"data": {"name": "spectra"},
         "mark": {"type": "line", "opacity": 0},
         "encoding": {
           "x": {"field": "f", "type": "quantitative", "scale": {"type": "log", "domain": [0.001, 1], "nice": false}, "axis": {"orient": "top", "labels": false, "title": null, "tickSize": -4, "values": [0.002,0.003,0.004,0.005,0.006,0.007,0.008,0.009,0.02,0.03,0.04,0.05,0.06,0.07,0.08,0.09,0.2,0.3,0.4,0.5,0.6,0.7,0.8,0.9]}},
           "y": {"field": "oct9", "type": "quantitative", "scale": {"domain": [0, 8], "nice": false, "zero": false}, "axis": {"orient": "right", "labels": false, "title": null, "tickSize": -12, "values": [2, 4, 6]}}}},
        {"data": {"name": "spectra"},
         "mark": {"type": "line", "opacity": 0},
         "encoding": {
           "x": {"field": "f", "type": "quantitative", "scale": {"type": "log", "domain": [0.001, 1], "nice": false}, "axis": {"orient": "top", "labels": false, "title": null, "tickSize": -7, "values": [0.01, 0.1]}},
           "y": {"field": "oct9", "type": "quantitative", "scale": {"domain": [0, 8], "nice": false, "zero": false}, "axis": null}}},
        {"data": {"name": "spectra"},
         "mark": {"type": "line", "opacity": 0},
         "encoding": {
           "x": {"field": "f", "type": "quantitative", "scale": {"type": "log", "domain": [0.001, 1], "nice": false}, "axis": {"orient": "bottom", "values": [0.001, 0.01, 0.1], "labelExpr": "datum.value < 0.005 ? '−3' : (datum.value < 0.05 ? '−2' : '−1')", "labelAlign": "left", "labelBaseline": "alphabetic", "labelPadding": 23, "labelFontSize": 21, "labelDx": 1, "ticks": false, "title": null}},
           "y": {"field": "oct9", "type": "quantitative", "scale": {"domain": [0, 8], "nice": false, "zero": false}, "axis": null}}},
        {"data": {"name": "arrows9"},
         "mark": {"type": "rule", "color": "#00ff00", "strokeWidth": 1.8},
         "encoding": {
           "x": {"field": "f", "type": "quantitative", "scale": {"type": "log", "domain": [0.001, 1], "nice": false}, "axis": null},
           "x2": {"field": "f2"},
           "y": {"field": "p", "type": "quantitative", "scale": {"domain": [0, 8], "nice": false, "zero": false}, "axis": null},
           "y2": {"field": "p2"}}},
        {"data": {"values": [{}]},
         "mark": {"type": "text", "text": "2003 October 9", "align": "left", "baseline": "alphabetic", "dy": -3, "fontSize": 28, "color": "black"},
         "encoding": {
           "x": {"datum": 0.001, "type": "quantitative", "scale": {"type": "log", "domain": [0.001, 1], "nice": false}, "axis": null},
           "y": {"datum": 8, "type": "quantitative", "scale": {"domain": [0, 8], "nice": false, "zero": false}, "axis": null}}},
        {"data": {"values": [{}]},
         "mark": {"type": "text", "text": "XTE J0055−724 (58.9s)", "align": "left", "baseline": "middle", "fontSize": 23.5, "color": "#0000ff"},
         "encoding": {
           "x": {"datum": 0.02265, "type": "quantitative", "scale": {"type": "log", "domain": [0.001, 1], "nice": false}, "axis": null},
           "y": {"datum": 6.22, "type": "quantitative", "scale": {"domain": [0, 8], "nice": false, "zero": false}, "axis": null}}},
        {"data": {"values": [{}]},
         "mark": {"type": "text", "text": "harmonic", "align": "left", "baseline": "middle", "fontSize": 24, "color": "#0000ff"},
         "encoding": {
           "x": {"datum": 0.038, "type": "quantitative", "scale": {"type": "log", "domain": [0.001, 1], "nice": false}, "axis": null},
           "y": {"datum": 1.23, "type": "quantitative", "scale": {"domain": [0, 8], "nice": false, "zero": false}, "axis": null}}}
      ]
    }
  ]
}
